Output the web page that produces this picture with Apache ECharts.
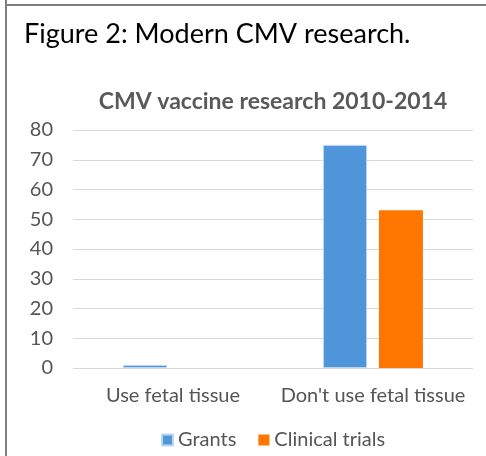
<!DOCTYPE html>
<html>
<head>
<meta charset="utf-8">
<script src="https://cdn.jsdelivr.net/npm/echarts@6/dist/echarts.min.js"></script>
<style>
  html, body { margin: 0; padding: 0; background: #fff; }
  #chart { width: 486px; height: 456px; }
</style>
</head>
<body>
<div id="chart"></div>
<script>
// data
var categories = ["Use fetal tissue", "Don't use fetal tissue"];
var grants = [1, 75];
var clinicalTrials = [0, 53];
var yTicks = [0, 10, 20, 30, 40, 50, 60, 70, 80];

var chart = echarts.init(document.getElementById('chart'));
var font = 'Lato, "Open Sans", sans-serif';

var option = {
  backgroundColor: '#ffffff',
  animation: false,
  title: [
    {
      text: 'Figure 2: Modern CMV research.',
      left: 19, top: 16,
      textStyle: { fontFamily: font, fontSize: 27, fontWeight: 'normal', color: '#000000' }
    },
    {
      text: 'CMV vaccine research 2010-2014',
      left: 268, top: 85, textAlign: 'center',
      textStyle: { fontFamily: font, fontSize: 23, fontWeight: 'bold', color: '#595959' }
    }
  ],
  graphic: [
    { type: 'line', shape: { x1: 6, y1: 0, x2: 6, y2: 456 }, style: { stroke: '#7f7f7f', lineWidth: 2 } },
    { type: 'line', shape: { x1: 5, y1: 5, x2: 486, y2: 5 }, style: { stroke: '#7f7f7f', lineWidth: 2 } }
  ],
  legend: {
    left: 156, top: 425,
    itemWidth: 11, itemHeight: 11, itemGap: 22,
    icon: 'rect',
    textStyle: { fontFamily: font, fontSize: 20, color: '#555555' },
    data: ['Grants', 'Clinical trials']
  },
  grid: { left: 73, right: 13, top: 130, bottom: 88 },
  xAxis: {
    type: 'category',
    data: categories,
    axisTick: { show: false },
    axisLine: { show: false },
    axisLabel: { interval: 0, fontFamily: font, fontSize: 20, color: '#555555', margin: 18 }
  },
  yAxis: {
    type: 'value',
    min: yTicks[0], max: yTicks[yTicks.length - 1], interval: 10,
    axisLine: { show: false },
    axisTick: { show: false },
    axisLabel: { fontFamily: font, fontSize: 20, color: '#555555', margin: 20 },
    splitLine: { lineStyle: { color: '#d9d9d9', width: 1 } }
  },
  series: [
    {
      name: 'Grants', type: 'bar', data: grants,
      barWidth: 44, barGap: '27%',
      itemStyle: { color: '#4e96d9', borderColor: '#bcd6ef', borderWidth: 1 }
    },
    {
      name: 'Clinical trials', type: 'bar', data: clinicalTrials,
      barWidth: 44,
      itemStyle: { color: '#ff7700', borderWidth: 0 }
    }
  ]
};
chart.setOption(option);
</script>
</body>
</html>
